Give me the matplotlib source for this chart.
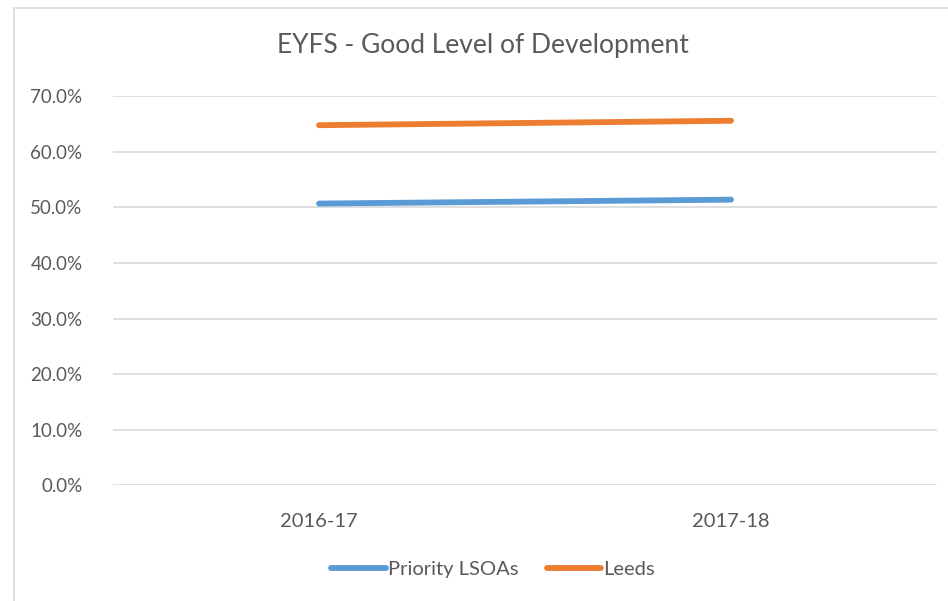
import matplotlib.pyplot as plt
from matplotlib.ticker import FuncFormatter
from matplotlib.patches import Rectangle

years = ['2016-17', '2017-18']
priority = [0.507, 0.514]
leeds = [0.648, 0.656]

plt.rcParams['font.family'] = ['Lato', 'DejaVu Sans']
grey = '#595959'

fig = plt.figure(figsize=(9.48, 6.01), dpi=100)
ax = fig.add_axes([113/948, 1-485.3/601, 824/948, (485.3-96.3)/601])

x = range(len(years))
ax.plot(x, priority, color='#5B9BD5', lw=4.2, solid_capstyle='round', label='Priority LSOAs')
ax.plot(x, leeds, color='#ED7D31', lw=4.2, solid_capstyle='round', label='Leeds')

ax.set_xlim(-0.5, 1.5)
ax.set_ylim(0, 0.70)
ax.set_yticks([i/10 for i in range(8)])
ax.yaxis.set_major_formatter(FuncFormatter(lambda v, p: '%.1f%%' % (v*100)))
ax.set_xticks(list(x))
ax.set_xticklabels(years)
ax.grid(axis='y', color='#D9D9D9', lw=1.2)
ax.set_axisbelow(True)
for s in ax.spines.values():
    s.set_visible(False)
ax.tick_params(length=0, colors=grey)
ax.tick_params(axis='y', labelsize=13.5, pad=22)
ax.tick_params(axis='x', labelsize=14.5, pad=20)

fig.text(483/948, 1-46/601, 'EYFS - Good Level of Development', ha='center', va='center',
         fontsize=19, color=grey)

leg = fig.legend(loc='center', bbox_to_anchor=(493/948, 1-569/601), ncol=2, frameon=False,
                 fontsize=14.5, handlelength=2.7, handletextpad=0.1, columnspacing=1.4)
for t in leg.get_texts():
    t.set_color(grey)

# chart border
fig.patches.append(Rectangle((14/948, -0.1), 2, 1-8/601+0.1, transform=fig.transFigure,
                             fill=False, edgecolor='#D9D9D9', lw=1.2))

fig.savefig('out.png', dpi=100)
